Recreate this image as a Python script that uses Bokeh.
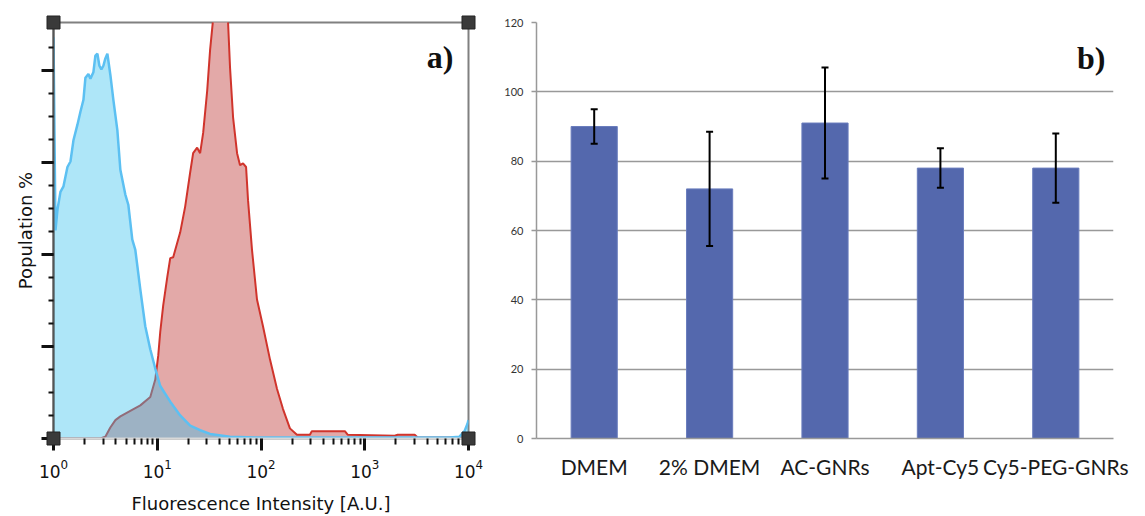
from bokeh.plotting import figure
from bokeh.models import (FixedTicker, ColumnDataSource, Whisker, TeeHead, Label,
                          Range1d, FactorRange)
from bokeh.layouts import row
from bokeh.embed import file_html
from bokeh.resources import INLINE

# ---------------- panel a) : flow cytometry histograms ----------------
blue_x = [1.0, 1.045, 1.093, 1.167, 1.248, 1.363, 1.457, 1.557, 1.701, 1.818, 1.944, 2.031,
          2.170, 2.269, 2.424, 2.534, 2.649, 2.769, 2.893, 3.026, 3.162, 3.306, 3.533, 3.775,
          4.125, 4.409, 4.924, 5.262, 5.748, 6.146, 6.865, 7.666, 8.565, 9.568, 10.69, 13.34,
          16.64, 20.76, 25.9, 32.3, 50.3, 97.7, 369, 2172, 6565, 8190, 9154, 9780, 10000]
blue_y = [4.36, 2.26, 2.49, 2.68, 2.74, 2.95, 3.01, 3.24, 3.41, 3.55, 3.68, 3.92,
          3.96, 3.91, 3.98, 4.16, 4.18, 4.05, 4.01, 4.05, 4.13, 4.18, 3.95, 3.68,
          3.35, 2.92, 2.65, 2.54, 2.16, 2.05, 1.62, 1.22, 0.97, 0.76, 0.57, 0.40,
          0.25, 0.14, 0.09, 0.05, 0.02, 0.01, 0.01, 0.01, 0.01, 0.02, 0.08, 0.16, 0.2]

red_x = [1.0, 2.83, 3.16, 3.53, 3.95, 4.41, 5.50, 6.87, 8.57, 9.57, 10.22, 10.69, 11.42,
         12.48, 13.34, 14.25, 16.64, 18.58, 20.76, 22.18, 24.25, 25.9, 27.7, 30.3, 32.3,
         34.5, 36.1, 40.3, 45.1, 48.2, 50.3, 53.8, 58.8, 62.8, 67.1, 71.8, 75.0, 81.9,
         91.5, 104.5, 122, 142.5, 163, 190, 222, 296, 309, 643, 687, 1942, 2075, 3030,
         3235, 10000]
red_y = [0, 0, 0.02, 0.12, 0.2, 0.24, 0.3, 0.36, 0.45, 0.64, 0.9, 1.16, 1.45,
         1.75, 1.96, 1.97, 2.24, 2.52, 2.89, 3.10, 3.16, 3.10, 3.32, 3.78, 4.22,
         4.55, 4.9, 5.1, 4.9, 4.51, 4.03, 3.49, 3.10, 2.97, 2.99, 2.95, 2.59, 2.05,
         1.51, 1.22, 0.86, 0.54, 0.32, 0.11, 0.04, 0.04, 0.08, 0.08, 0.04, 0.03, 0.04, 0.04,
         0.01, 0.01]

x_decades = [1, 10, 100, 1000, 10000]
y_major = [0, 1, 2, 3, 4]

# ---------------- panel b) : bar chart ----------------
categories = ["DMEM", "2% DMEM", "AC-GNRs", "Apt-Cy5", "Cy5-PEG-GNRs"]
means = [90, 72, 91, 78, 78]
errors = [5, 16.5, 16, 5.7, 10]
b_ticks = [0, 20, 40, 60, 80, 100, 120]

X0, X1 = x_decades[0], x_decades[-1]
Y0, Y1 = 0, 4.52

W1, H = 498, 516
BL, BR, BT, BB = 53, 30, 22, 76

p1 = figure(width=W1, height=H, x_axis_type="log",
            x_range=Range1d(X0, X1), y_range=Range1d(Y0, Y1),
            output_backend="svg", toolbar_location=None,
            min_border_left=BL, min_border_right=BR, min_border_top=BT, min_border_bottom=BB)
p1.grid.visible = False
p1.outline_line_color = "#808080"
p1.outline_line_width = 2
p1.background_fill_color = "white"
p1.border_fill_color = "white"

p1.varea(x=red_x, y1=0, y2=red_y, fill_color="#e3a9a8", fill_alpha=1.0)
p1.line(red_x, red_y, line_color="#d0342c", line_width=2)
p1.varea(x=blue_x, y1=0, y2=blue_y, fill_color="#34c0ed", fill_alpha=0.4)
p1.line(blue_x, blue_y, line_color="#5cc0f2", line_width=2.5)

xa = p1.xaxis[0]
xa.ticker = FixedTicker(ticks=x_decades,
                        minor_ticks=[m * d for d in x_decades[:-1] for m in range(2, 10)])
xa.major_tick_in = 0
xa.major_tick_out = 12
xa.major_tick_line_width = 3
xa.major_tick_line_color = "#111111"
xa.minor_tick_in = 0
xa.minor_tick_out = 6
xa.minor_tick_line_width = 2
xa.minor_tick_line_color = "#111111"
xa.axis_line_color = "#d8d8d8"
xa.axis_line_width = 2
xa.major_label_text_font = "DejaVu Sans"
xa.major_label_text_font_size = "17px"
xa.major_label_text_color = "#111111"
xa.major_label_standoff = 8
xa.axis_label = "Fluorescence Intensity [A.U.]"
xa.axis_label_text_font = "DejaVu Sans"
xa.axis_label_text_font_size = "18px"
xa.axis_label_text_font_style = "normal"
xa.axis_label_text_color = "#111111"
xa.axis_label_standoff = 12

ya = p1.yaxis[0]
ya.ticker = FixedTicker(ticks=y_major, minor_ticks=[i * 0.25 for i in range(19)])
ya.major_label_text_font_size = "1px"
ya.major_label_text_color = None
ya.major_label_standoff = 0
ya.major_tick_in = 0
ya.major_tick_out = 12
ya.major_tick_line_width = 3
ya.major_tick_line_color = "#111111"
ya.minor_tick_in = 0
ya.minor_tick_out = 5
ya.minor_tick_line_width = 2
ya.minor_tick_line_color = "#111111"
ya.axis_line_color = "#555555"
ya.axis_line_width = 2
ya.axis_label = "Population %"
ya.axis_label_text_font = "DejaVu Sans"
ya.axis_label_text_font_size = "18px"
ya.axis_label_text_font_style = "normal"
ya.axis_label_text_color = "#111111"
ya.axis_label_standoff = 6

# corner handles of the frame (drawn unclipped at the range corners)
corners = p1.scatter(x=[X0, X1, X0, X1], y=[Y1, Y1, Y0, Y0], marker="square", size=13,
                     fill_color="#3a3a3a", line_color="#222222", level="overlay")

p1.add_layout(Label(x=X1, y=Y1, x_offset=-15, y_offset=-34, text="a)",
                    text_align="right", text_baseline="alphabetic",
                    text_font="Liberation Serif", text_font_style="bold",
                    text_font_size="32px", text_color="#111111"))

# ---------------- panel b ----------------
src = ColumnDataSource(dict(
    cat=categories, mean=means,
    upper=[m + e for m, e in zip(means, errors)],
    lower=[m - e for m, e in zip(means, errors)],
))

p2 = figure(width=1145 - W1, height=H, x_range=FactorRange(*categories),
            y_range=Range1d(b_ticks[0], b_ticks[-1]),
            output_backend="svg", toolbar_location=None,
            min_border_left=38, min_border_right=32, min_border_top=20, min_border_bottom=75)
p2.outline_line_color = None
p2.xgrid.visible = False
p2.ygrid.grid_line_color = "#999999"
p2.ygrid.grid_line_width = 1.5
p2.ygrid.ticker = FixedTicker(ticks=b_ticks)

p2.vbar(x="cat", top="mean", width=0.4, source=src, fill_color="#5468ad",
        line_color="#6a7dbd", line_width=1)
wh = Whisker(base="cat", upper="upper", lower="lower", source=src,
             line_color="black", line_width=2, level="overlay",
             upper_head=TeeHead(size=7, line_width=2, line_color="black"),
             lower_head=TeeHead(size=7, line_width=2, line_color="black"))
p2.add_layout(wh)

yb = p2.yaxis[0]
yb.ticker = FixedTicker(ticks=b_ticks)
yb.axis_line_color = "#999999"
yb.axis_line_width = 1.5
yb.major_tick_in = 0
yb.major_tick_out = 5
yb.major_tick_line_color = "#999999"
yb.major_tick_line_width = 1.5
yb.minor_tick_line_color = None
yb.major_label_text_font = "Lato"
yb.major_label_text_font_size = "11px"
yb.major_label_text_color = "#333333"
yb.major_label_standoff = 8

xb = p2.xaxis[0]
xb.axis_line_color = "#999999"
xb.axis_line_width = 1.5
xb.major_tick_line_color = None
xb.minor_tick_line_color = None
xb.major_label_text_font = "Lato"
xb.major_label_text_font_size = "21px"
xb.major_label_text_color = "#1a1a1a"
xb.major_label_standoff = 9

p2.add_layout(Label(x=len(categories), y=b_ticks[-1], x_offset=-8, y_offset=-35, text="b)",
                    text_align="right", text_baseline="alphabetic",
                    text_font="Liberation Serif", text_font_style="bold",
                    text_font_size="32px", text_color="#111111"))

layout = row(p1, p2)
open("out.html", "w").write(file_html(layout, INLINE))
